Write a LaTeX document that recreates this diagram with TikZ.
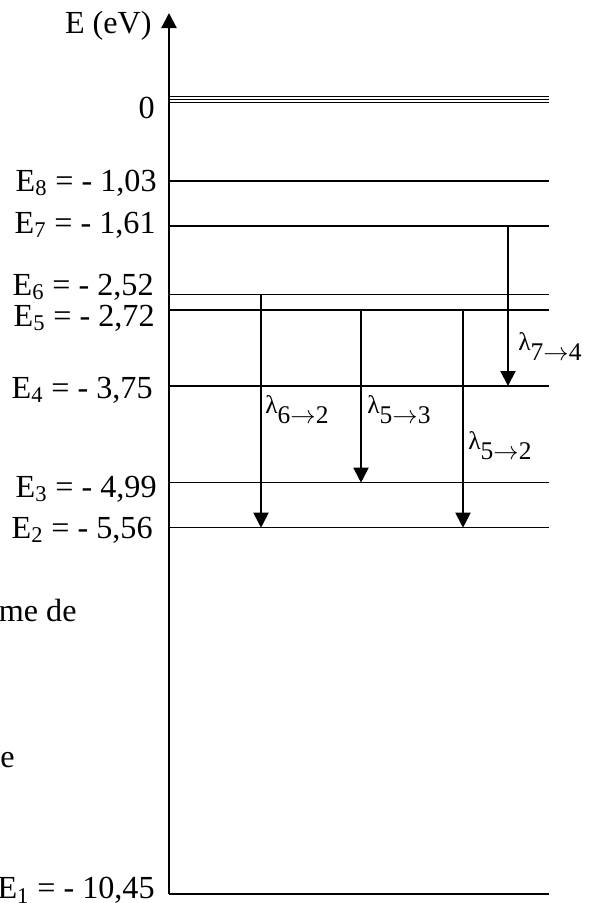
\documentclass[tikz,border=0pt]{standalone}
\usepackage{fontspec}
\setmainfont{Liberation Serif}
\usetikzlibrary{arrows.meta, positioning}

\newcommand{\lamb}[2]{λ\raisebox{-0.42em}{#1$\rightarrow$#2}}

\begin{document}
\begin{tikzpicture}[
  axis/.style={line width=1.25pt, -{Triangle[length=0.3cm, width=0.3cm]}},
  level/.style={line width=0.75pt},
  fine/.style={line width=0.55pt},
  jump/.style={line width=1.1pt, -{Triangle[length=0.3cm, width=0.3cm]}},
  elab/.style={anchor=base east, inner sep=0pt, font=\fontsize{18.3}{21}\selectfont},
  jlab/.style={anchor=base west, inner sep=0pt, font=\fontsize{14.5}{17}\selectfont},
]
\useasboundingbox (0,0) rectangle (12,-18.06);

\coordinate (R) at (10.98,0);
\coordinate (bot) at (3.38,-17.88);
\coordinate (top) at (3.38,-0.26);
\coordinate (L8) at (3.38,-3.62);
\coordinate (L7) at (3.38,-4.52);
\coordinate (L6) at (3.38,-5.894);
\coordinate (L5) at (3.38,-6.2);
\coordinate (L4) at (3.38,-7.72);
\coordinate (L3) at (3.38,-9.654);
\coordinate (L2) at (3.38,-10.554);
\coordinate (L1) at (bot);

% energy axis
\draw[axis] (bot) -- (top);
\node[elab] (unit) at (3.04,-0.66) {E (eV)};

% ionisation limit
\foreach \y in {-1.92,-1.98,-2.04}
  \draw[fine] (3.38,\y) -- (10.98,\y);
\node[elab] (zero) at (3.10,-2.36) {0};

% levels
\foreach \n in {8,7,6,5,4,3,2,1}
  \draw[level] (L\n) -- (L\n -| R);

\node[elab] (e8) at (3.14,-3.82)  {E\textsubscript{8} = - 1,03};
\node[elab] (e7) at (3.12,-4.66)  {E\textsubscript{7} = - 1,61};
\node[elab] (e6) at (3.08,-5.90)  {E\textsubscript{6} = - 2,52};
\node[elab] (e5) at (3.10,-6.52)  {E\textsubscript{5} = - 2,72};
\node[elab] (e4) at (3.06,-7.96)  {E\textsubscript{4} = - 3,75};
\node[elab] (e3) at (3.14,-9.94)  {E\textsubscript{3} = - 4,99};
\node[elab] (e2) at (3.06,-10.76) {E\textsubscript{2} = - 5,56};
\node[elab] (e1) at (3.10,-17.97) {E\textsubscript{1} = - 10,45};

% transitions
\coordinate (c62) at (5.22,0);
\coordinate (c53) at (7.22,0);
\coordinate (c52) at (9.26,0);
\coordinate (c74) at (10.16,0);
\draw[jump] (c62 |- L6) -- (c62 |- L2);
\draw[jump] (c53 |- L5) -- (c53 |- L3);
\draw[jump] (c52 |- L5) -- (c52 |- L2);
\draw[jump] (c74 |- L7) -- (c74 |- L4);

\node[jlab] (l62) at (5.30,-8.26)  {\lamb{6}{2}};
\node[jlab] (l53) at (7.34,-8.26)  {\lamb{5}{3}};
\node[jlab] (l52) at (9.36,-8.98)  {\lamb{5}{2}};
\node[jlab] (l74) at (10.36,-7.00) {\lamb{7}{4}};

% cut text at the left edge
\node[anchor=base west, inner sep=0pt, font=\fontsize{18.3}{21}\selectfont] (cut1) at (-0.03,-12.42) {me de};
\node[anchor=base east, inner sep=0pt, font=\fontsize{18.3}{21}\selectfont] (cut2) at (0.30,-15.34) {e};
\end{tikzpicture}
\end{document}
